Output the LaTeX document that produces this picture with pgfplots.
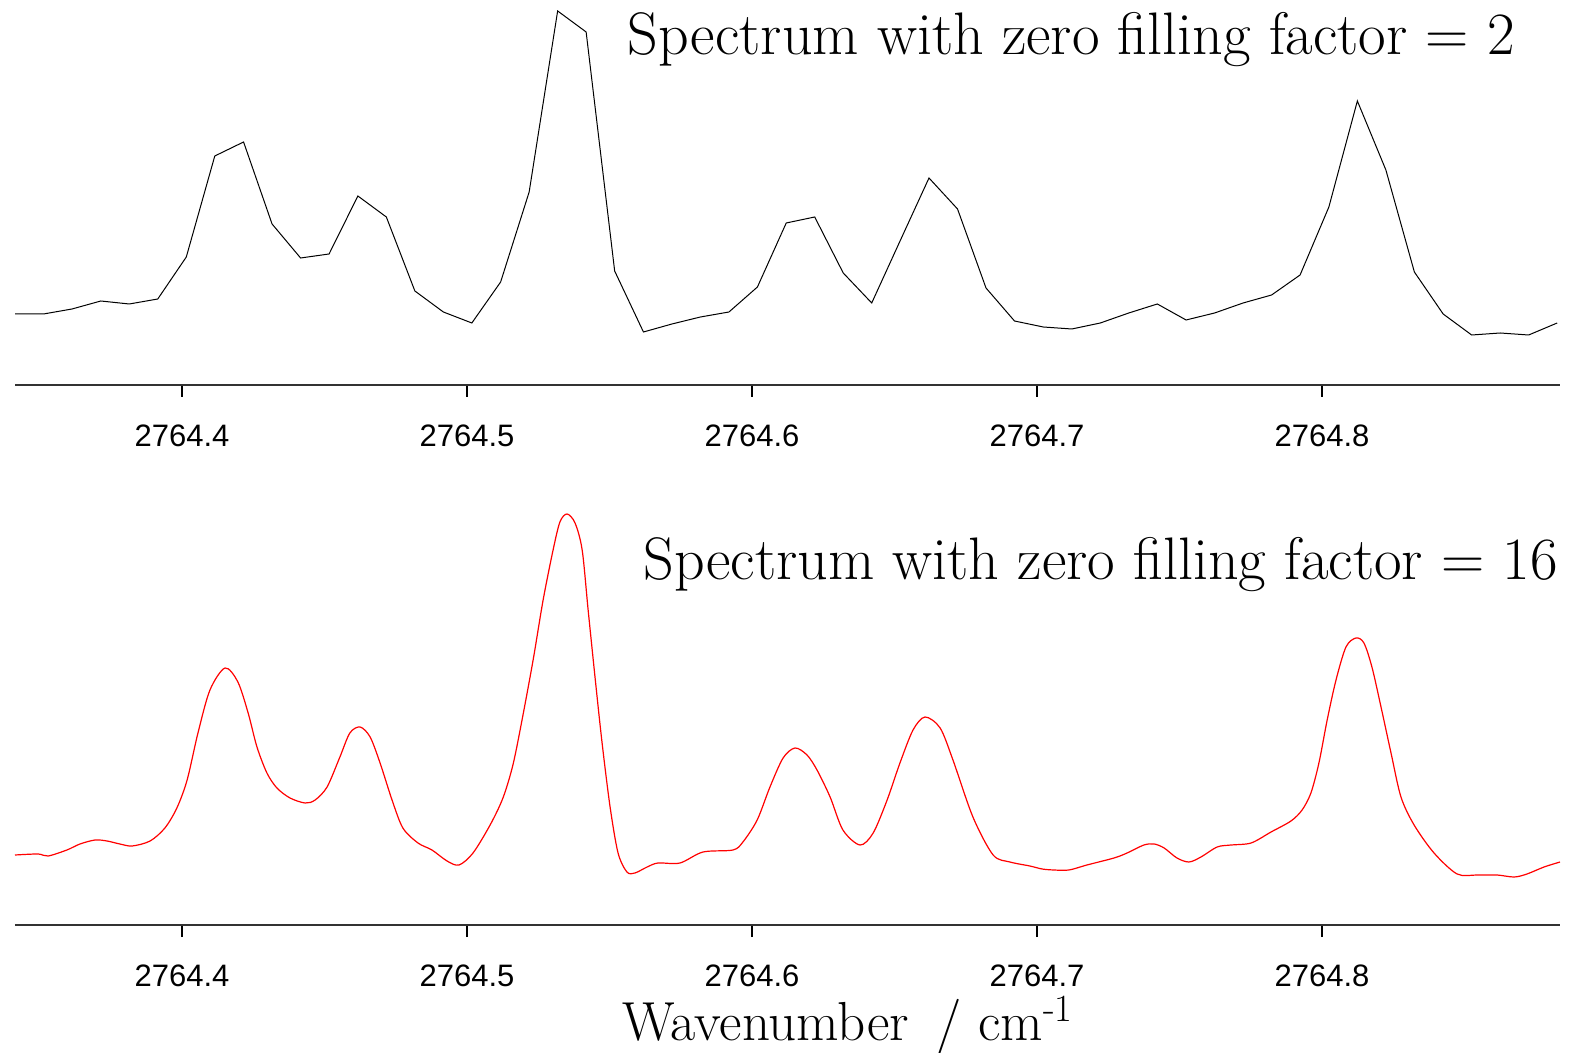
\documentclass[border=0pt]{standalone}
\usepackage{pgfplots}
\pgfplotsset{compat=1.18}
\usepackage{fontspec}
\newfontfamily\ticksans{Liberation Sans}

% common look of both spectrum panels: only a bottom wavenumber axis
\pgfplotsset{
  specaxis/.style={
    scale only axis, width=772.5pt,
    xmin=2764.3414, xmax=2764.8835,
    ymin=0,
    axis x line*=bottom, hide y axis,
    xtick={2764.4,2764.5,2764.6,2764.7,2764.8},
    xticklabels={2764.4,2764.5,2764.6,2764.7,2764.8},
    tick align=outside, major tick length=6pt,
    xticklabel style={font=\ticksans\fontsize{15.5}{15.5}\selectfont, yshift=-10.5pt},
    axis line style={line width=0.9pt, black!80},
    x tick style={line width=0.7pt, black},
    clip=false,
  }
}

\begin{document}
\begin{tikzpicture}
\useasboundingbox (0pt,-334pt) rectangle (787pt,192.5pt);

% zero filling factor 2
\begin{axis}[specaxis, at={(7.5pt,0pt)}, anchor=south west, ymax=385, height=192.5pt]
\addplot[black, line width=0.5pt] table {
x y
2764.3414 71
2764.3514 71
2764.3614 76
2764.3715 84
2764.3815 81
2764.3915 86
2764.4015 128
2764.4115 229
2764.4216 243
2764.4316 161
2764.4416 127
2764.4516 131
2764.4617 189
2764.4717 168
2764.4817 94
2764.4917 73
2764.5017 62
2764.5118 103
2764.5218 193
2764.5318 374
2764.5418 353
2764.5518 114
2764.5619 53
2764.5719 61
2764.5819 68
2764.5919 73
2764.6019 98
2764.6120 162
2764.6220 168
2764.6320 112
2764.6420 82
2764.6521 145
2764.6621 207
2764.6721 176
2764.6821 97
2764.6921 64
2764.7022 58
2764.7122 56
2764.7222 62
2764.7322 72
2764.7422 81
2764.7523 65
2764.7623 72
2764.7723 82
2764.7823 90
2764.7923 110
2764.8024 178
2764.8124 284
2764.8224 215
2764.8324 113
2764.8425 71
2764.8525 50
2764.8625 52
2764.8725 50
2764.8825 62
};
\end{axis}

% zero filling factor 16
\begin{axis}[specaxis, at={(7.5pt,-270pt)}, anchor=south west, ymax=425, height=212.5pt]
\addplot[red, line width=0.6pt, smooth] table {
x y
2764.3414 70
2764.3495 71
2764.3530 69
2764.3596 75
2764.3642 81
2764.3695 85
2764.3737 84
2764.3782 81
2764.3825 79
2764.3888 84
2764.3940 97
2764.3982 117
2764.4018 145
2764.4056 192
2764.4098 235
2764.4151 257
2764.4196 243
2764.4232 212
2764.4263 178
2764.4298 152
2764.4333 137
2764.4379 127
2764.4432 122
2764.4467 125
2764.4509 138
2764.4554 168
2764.4589 192
2764.4625 198
2764.4660 188
2764.4695 162
2764.4737 125
2764.4775 97
2764.4828 82
2764.4877 75
2764.4930 64
2764.4972 60
2764.5021 72
2764.5081 100
2764.5126 127
2764.5161 160
2764.5193 205
2764.5232 265
2764.5267 325
2764.5302 375
2764.5326 403
2764.5351 411
2764.5379 402
2764.5404 375
2764.5425 315
2764.5449 248
2764.5474 182
2764.5502 118
2764.5530 72
2764.5561 53
2764.5589 52
2764.5632 58
2764.5670 62
2764.5747 62
2764.5828 73
2764.5933 75
2764.5968 83
2764.6018 105
2764.6063 138
2764.6109 167
2764.6151 177
2764.6193 170
2764.6228 155
2764.6274 128
2764.6319 95
2764.6379 80
2764.6425 92
2764.6474 125
2764.6519 162
2764.6565 195
2764.6607 208
2764.6660 197
2764.6705 165
2764.6775 108
2764.6846 70
2764.6905 63
2764.6975 59
2764.7018 56
2764.7060 55
2764.7112 55
2764.7175 60
2764.7270 67
2764.7316 72
2764.7375 80
2764.7411 81
2764.7446 77
2764.7491 67
2764.7533 63
2764.7575 68
2764.7632 78
2764.7681 80
2764.7751 82
2764.7821 93
2764.7891 104
2764.7930 115
2764.7961 132
2764.7989 162
2764.8018 205
2764.8049 245
2764.8084 278
2764.8119 287
2764.8147 282
2764.8175 258
2764.8207 218
2764.8242 172
2764.8277 128
2764.8323 100
2764.8393 72
2764.8474 51
2764.8544 50
2764.8614 50
2764.8674 48
2764.8719 51
2764.8779 58
2764.8835 63
};
\end{axis}

\node[anchor=base east, font=\fontsize{30}{34}\selectfont, inner sep=0pt]
  at (757.5pt,165pt) {Spectrum with zero filling factor = 2};
\node[anchor=base east, font=\fontsize{30}{34}\selectfont, inner sep=0pt]
  at (779pt,-97.5pt) {Spectrum with zero filling factor = 16};
\node[anchor=base west, font=\fontsize{27.5}{32}\selectfont, inner sep=0pt]
  at (311pt,-327.5pt) {Wavenumber\hspace{0.5em}/ cm\textsuperscript{-1}};
\end{tikzpicture}
\end{document}
